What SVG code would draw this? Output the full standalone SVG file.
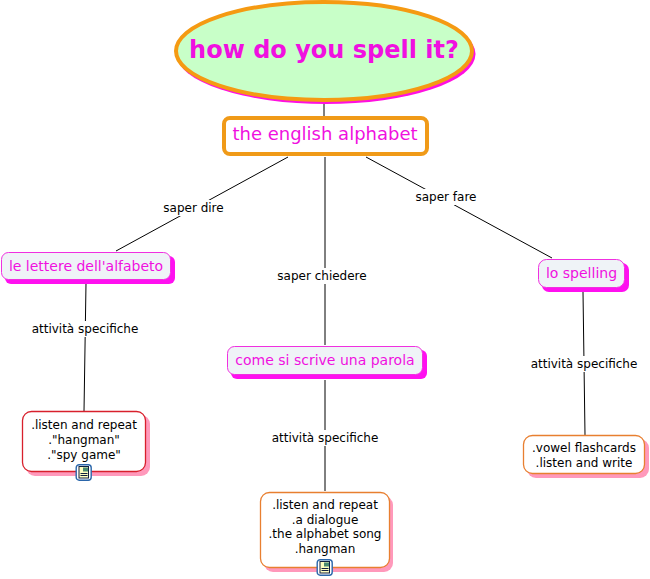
<svg xmlns="http://www.w3.org/2000/svg" xmlns:xlink="http://www.w3.org/1999/xlink" width="650" height="579" viewBox="0 0 650 579">
<style>
text{font-family:"DejaVu Sans",Verdana,sans-serif;text-anchor:middle}
.c{stroke:#000;stroke-width:1;fill:none}
.lb{fill:#fff}
.l{font-size:12px;fill:#000}
.m{font-size:14px;fill:#f010e0}
.t{font-size:12px;fill:#000}
.sm{fill:#ff10f0}
.sp{fill:#ff99bb}
.mb{fill:#eff3f7;stroke:#f030e0;stroke-width:1}
.rb{fill:#fff;stroke:#d8202c;stroke-width:1.3}
.ob{fill:#fff;stroke:#e87f30;stroke-width:1.3}
</style>
<defs>
<g id="ic">
<rect x="0.7" y="0.7" width="15" height="15.5" rx="3" fill="#fff" stroke="#2a66aa" stroke-width="1.4"/>
<rect x="3.5" y="2.5" width="9.5" height="11.5" fill="#ffffc0" stroke="#102040" stroke-width="1"/>
<rect x="7.5" y="3.5" width="5" height="4" fill="#4a8a70"/>
<path d="M5 9.5h7M5 11.5h7" stroke="#102040" stroke-width="1"/>
</g>
</defs>
<g id="connectors">
<path class="c" d="M324 102V117M288 157L116 251M325 157V345M366 157L552 258M86 283L84 411M325 380V491M583 292L585 435"/>
<rect class="lb" x="161" y="200" width="65" height="16"/>
<text class="l" x="193.500" y="212">saper dire</text>
<rect class="lb" x="276" y="268" width="93" height="16"/>
<text class="l" x="322" y="280">saper chiedere</text>
<rect class="lb" x="413" y="189" width="66" height="16"/>
<text class="l" x="446" y="201">saper fare</text>
<rect class="lb" x="30" y="321" width="110" height="16"/>
<text class="l" x="85" y="333">attività specifiche</text>
<rect class="lb" x="270" y="430" width="110" height="16"/>
<text class="l" x="325" y="442">attività specifiche</text>
<rect class="lb" x="529" y="356" width="110" height="16"/>
<text class="l" x="584" y="368">attività specifiche</text>
</g>
<g id="n-root">
<ellipse cx="326" cy="54" rx="149.500" ry="50" fill="#ff10e0"/>
<ellipse cx="324" cy="51" rx="148" ry="49" fill="#c8ffc8" stroke="#f59a12" stroke-width="4"/>
<text x="324" y="58" font-size="24" font-weight="bold" fill="#f010e0">how do you spell it?</text>
</g>
<g id="n-alphabet">
<rect x="224" y="118" width="203" height="36" rx="6" fill="#fff" stroke="#f09a18" stroke-width="4"/>
<text x="325" y="140" font-size="18" fill="#f010e0">the english alphabet</text>
</g>
<g id="n-lettere">
<rect class="sm" x="5" y="256" width="170" height="28" rx="6"/>
<rect class="mb" x="1.500" y="252.500" width="169" height="27" rx="7"/>
<text class="m" x="86" y="271">le lettere dell'alfabeto</text>
</g>
<g id="n-parola">
<rect class="sm" x="231" y="350" width="196" height="29" rx="6"/>
<rect class="mb" x="227.500" y="346.500" width="195" height="28" rx="7"/>
<text class="m" x="325" y="365">come si scrive una parola</text>
</g>
<g id="n-spelling">
<rect class="sm" x="542" y="263" width="87" height="29" rx="7"/>
<rect class="mb" x="538.500" y="259.500" width="86" height="28" rx="8"/>
<text class="m" x="581.500" y="278">lo spelling</text>
</g>
<g id="n-act1">
<rect class="sp" x="26" y="415" width="124" height="61" rx="9"/>
<rect class="rb" x="22.500" y="411.500" width="123" height="60" rx="9"/>
<text class="t" x="84" y="429">.listen and repeat</text>
<text class="t" x="84" y="444">."hangman"</text>
<text class="t" x="84" y="459">."spy game"</text>
<use xlink:href="#ic" href="#ic" x="75.500" y="464"/>
</g>
<g id="n-act2">
<rect class="sp" x="264" y="496" width="129" height="76" rx="9"/>
<rect class="ob" x="260.500" y="492.500" width="129" height="75" rx="9"/>
<text class="t" x="325" y="509">.listen and repeat</text>
<text class="t" x="325" y="524">.a dialogue</text>
<text class="t" x="325" y="538">.the alphabet song</text>
<text class="t" x="325" y="553">.hangman</text>
<use xlink:href="#ic" href="#ic" x="316.500" y="559"/>
</g>
<g id="n-act3">
<rect class="sp" x="527" y="439" width="122" height="39" rx="9"/>
<rect class="ob" x="523.500" y="435.500" width="121" height="38" rx="9"/>
<text class="t" x="584" y="452">.vowel flashcards</text>
<text class="t" x="584" y="467">.listen and write</text>
</g>
</svg>
